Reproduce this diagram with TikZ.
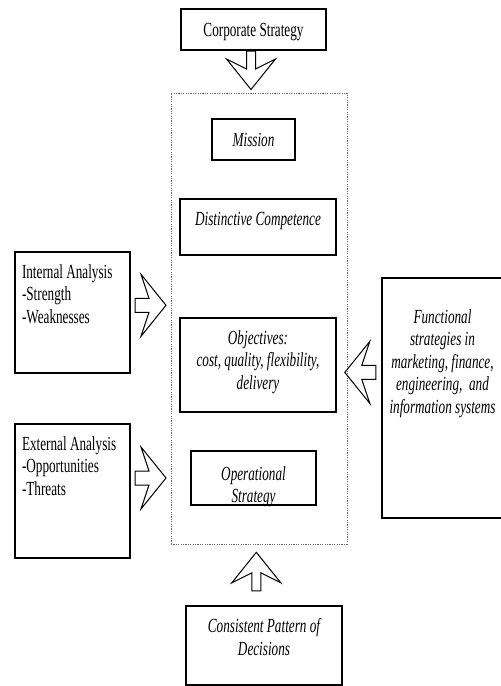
\documentclass[tikz,border=0pt]{standalone}
\usepackage{fontspec}
\setmainfont{Liberation Serif}[FakeStretch=0.66]

\begin{document}
\begin{tikzpicture}[x=0.5pt, y=0.5pt,
		block/.style={rectangle, draw, line width=1pt, inner xsep=2pt, inner ysep=1pt, text height=7pt, align=center, font=\fontsize{10}{11.25}\selectfont},
		iblock/.style={block, font=\fontsize{10}{11.25}\selectfont\itshape},
		listblock/.style={block, align=flush left, inner xsep=3.5pt, text width=50.5pt},
		hollow/.style={draw, line width=0.5pt, line join=miter},
		pics/widearrow/.style={code={\draw[hollow] (0,7) -- (14,7) -- (6,31) -- (31,0) -- (6,-31) -- (14,-7) -- (0,-7) -- cycle;}},
		pics/tallarrow/.style={code={\draw[hollow] (0,4.5) -- (18,4.5) -- (8,24.5) -- (38.5,0) -- (8,-24.5) -- (18,-4.5) -- (0,-4.5) -- cycle;}}]
		\useasboundingbox (0,0) rectangle (501,-686);
		
		\node[draw=gray!80!black, dash pattern=on 0.6pt off 0.6pt, line width=0.4pt, inner sep=0pt, minimum width=88pt, minimum height=225.5pt] (frame) at (259,-318.5) {};
		
		\node[block, minimum width=72.5pt, minimum height=20.5pt, text depth=0pt] (corporate) at (253.5,-29.5) {Corporate Strategy};
		\node[iblock, minimum width=41.5pt, minimum height=20.5pt, text depth=0pt] (mission) at (253.5,-139.5) {Mission};
		\node[iblock, minimum width=78pt, minimum height=28pt, text depth=9pt] (competence) at (258,-227) {Distinctive Competence};
		\node[iblock, minimum width=78pt, minimum height=47pt, text height=29.5pt, text depth=5.5pt] (objectives) at (258,-365) {Objectives:\\cost, quality, flexibility,\\delivery};
		\node[iblock, minimum width=62.5pt, minimum height=27pt, inner ysep=0pt, text height=24.5pt, text depth=0pt] (operational) at (253.5,-478) {Operational\\Strategy};
		
		\node[listblock, minimum height=60.5pt, text depth=41.5pt] (internal) at (72.5,-312.5) {Internal Analysis\\-Strength\\-Weaknesses};
		\node[listblock, minimum height=67pt, text depth=48pt] (external) at (72.5,-491) {External Analysis\\-Opportunities\\-Threats};
		\node[iblock, minimum width=60.5pt, minimum height=120pt, text height=52pt, text depth=37pt] (functional) at (442.5,-398) {Functional\\strategies in\\marketing, finance,\\engineering,\ \ and\\information systems};
		\node[iblock, minimum width=78pt, minimum height=39.5pt, text height=18.25pt, text depth=8.75pt] (decisions) at (264,-645.5) {Consistent Pattern of\\Decisions};
		
		\pic[rotate=-90] at ([xshift=-1.25pt]corporate.south) {tallarrow};
		\pic at ([xshift=2pt, yshift=3.6pt]internal.east) {widearrow};
		\pic at ([xshift=2pt]external.east |- operational.west) {widearrow};
		\pic[rotate=180] at ([xshift=-2.6pt, yshift=12.8pt]functional.west) {widearrow};
		\pic[rotate=90] at ([xshift=-3.85pt, yshift=7.1pt]decisions.north) {tallarrow};
		
	\end{tikzpicture}
\end{document}
